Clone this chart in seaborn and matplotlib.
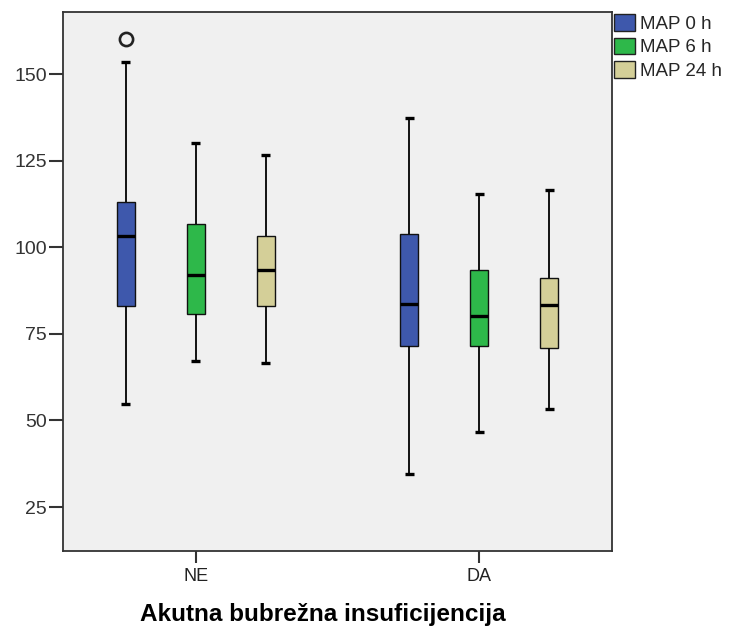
import numpy as np
import pandas as pd
import matplotlib
matplotlib.use("Agg")
import matplotlib.pyplot as plt
import seaborn as sns

# ---- data ----
groups = ["NE", "DA"]
series = ["MAP 0 h", "MAP 6 h", "MAP 24 h"]
colors = ["#3E58AC", "#2EB84A", "#D4CF98"]

# five-number summaries per series, in the order of `groups`
whisker_low = {"MAP 0 h": [54.6, 34.6], "MAP 6 h": [67.2, 46.6], "MAP 24 h": [66.6, 53.3]}
quart_1 = {"MAP 0 h": [83.1, 71.6], "MAP 6 h": [80.6, 71.6], "MAP 24 h": [83.1, 71.0]}
medians = {"MAP 0 h": [103.3, 83.7], "MAP 6 h": [92.0, 80.0], "MAP 24 h": [93.3, 83.3]}
quart_3 = {"MAP 0 h": [113.1, 103.9], "MAP 6 h": [106.7, 93.3], "MAP 24 h": [103.2, 91.2]}
whisker_high = {"MAP 0 h": [153.4, 137.4], "MAP 6 h": [130.0, 115.3], "MAP 24 h": [126.6, 116.6]}
outliers = {("NE", "MAP 0 h"): [160.0]}

y_ticks = [25, 50, 75, 100, 125, 150]
x_title = "Akutna bubrežna insuficijencija"

# ---- build a table whose quartiles/whiskers equal the summaries above ----
rows = []
for s in series:
    for gi, g in enumerate(groups):
        lo, a, m, b, hi = (whisker_low[s][gi], quart_1[s][gi], medians[s][gi],
                           quart_3[s][gi], whisker_high[s][gi])
        extra = outliers.get((g, s), [hi])
        vals = [lo, a, a, m, m, b, b, hi] + list(extra)
        for v in vals:
            rows.append({"group": g, "series": s, "value": v})
df = pd.DataFrame(rows)

sns.set_style("white")
plt.rcParams["font.family"] = ["Liberation Sans", "DejaVu Sans"]

fig = plt.figure(figsize=(7.37, 6.30), dpi=100)
ax = fig.add_axes([63 / 737, 1 - 551 / 630, 549 / 737, 539 / 630])
ax.set_facecolor("#F0F0F0")

sns.boxplot(
    data=df, x="group", y="value", hue="series",
    order=groups, hue_order=series, palette=colors,
    width=0.7405, gap=0.747, whis=1.5, saturation=1,
    linecolor="#111111", linewidth=1.0,
    medianprops=dict(color="black", linewidth=2.4, solid_capstyle="butt"),
    whiskerprops=dict(color="black", linewidth=1.3),
    capprops=dict(color="black", linewidth=2.4, solid_capstyle="butt"),
    flierprops=dict(marker="o", markersize=9.5, markerfacecolor="none",
                    markeredgecolor="#222222", markeredgewidth=1.9),
    ax=ax,
)

ax.set_xlim(-0.468, 1.468)
ax.set_ylim(12.3, 167.9)
ax.set_yticks(y_ticks)
ax.set_yticklabels([str(t) for t in y_ticks])

for sp in ax.spines.values():
    sp.set_visible(True)
    sp.set_color("#333333")
    sp.set_linewidth(1.3)

ax.tick_params(axis="y", left=True, length=10, width=1.5, color="#333333",
               labelsize=14, labelcolor="#333333", pad=1.5)
ax.tick_params(axis="x", bottom=True, length=8.5, width=1.5, color="#333333",
               labelsize=13, labelcolor="#222222", pad=3.5)

ax.set_ylabel("")
ax.set_xlabel(x_title, fontsize=17.5, fontweight="bold", color="black")
ax.xaxis.set_label_coords(0.4727, -0.117)
ax.xaxis.label.set_verticalalignment("center")

handles, labels = ax.get_legend_handles_labels()
if ax.legend_:
    ax.legend_.remove()
for h in handles:
    h.set_edgecolor("#222222")
    h.set_linewidth(1.0)
fig.legend(handles, labels, loc="upper left",
           bbox_to_anchor=(614 / 737, 1 - 14 / 630),
           frameon=False, fontsize=13.5, handlelength=1.1, handleheight=1.0,
           handletextpad=0.3, labelspacing=0.25, borderpad=0, borderaxespad=0)

fig.savefig("out.png", dpi=100)
